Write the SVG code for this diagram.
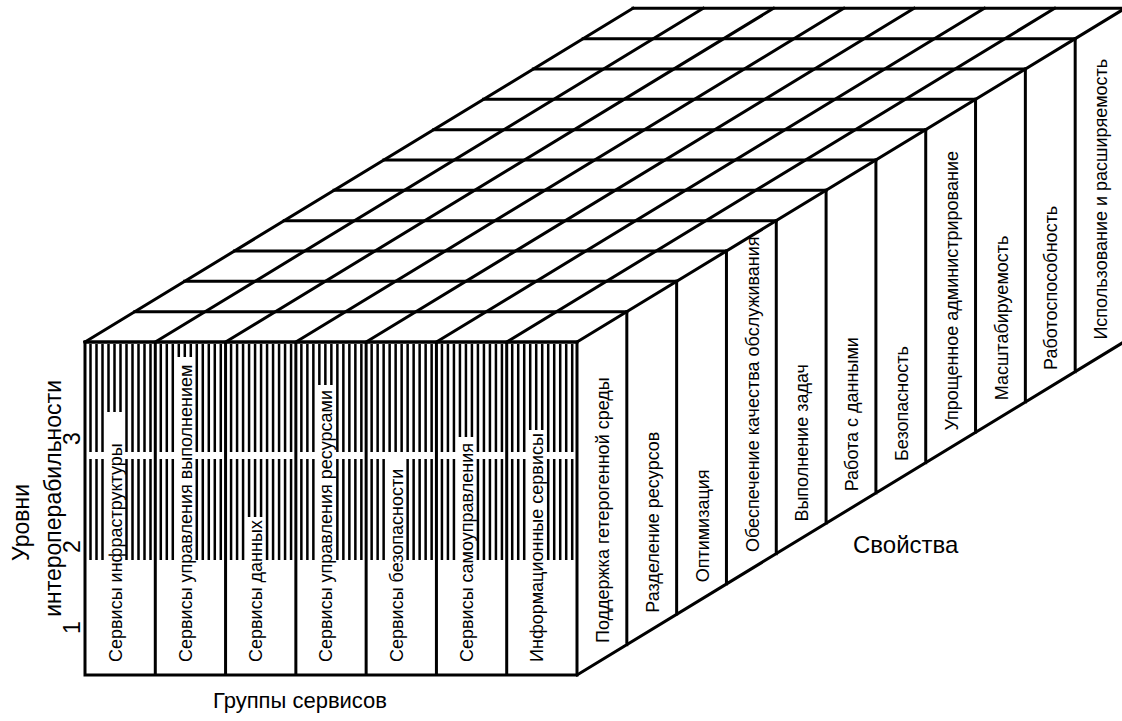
<svg xmlns="http://www.w3.org/2000/svg" xmlns:xlink="http://www.w3.org/1999/xlink" width="1122" height="721" viewBox="0 0 1122 721">
<style>
.ln{fill:none;stroke:#000;stroke-width:3;stroke-linecap:square;stroke-linejoin:miter}
.ht{fill:none;stroke:#000;stroke-width:2.5}
.msk{fill:#fff;stroke:none}
.t{font-family:"Liberation Sans",Arial,sans-serif;font-size:18px;fill:#000}
.big{font-family:"Liberation Sans",Arial,sans-serif;font-size:22px;fill:#000}
.axis{font-family:"Liberation Sans",Arial,sans-serif;font-size:23px;fill:#000}
</style>
<defs>
<path id="hatch" class="ht" d="M5.5 344V452M5.5 459V560M11.5 344V452M11.5 459V560M17.5 344V452M17.5 459V560M23.5 344V452M23.5 459V560M29.5 344V452M29.5 459V560M35.5 344V452M35.5 459V560M41.5 344V452M41.5 459V560M47.5 344V452M47.5 459V560M53.5 344V452M53.5 459V560M59.5 344V452M59.5 459V560M65.5 344V452M65.5 459V560"/>
</defs>
<rect width="1122" height="721" fill="#fff"/>

<g id="top-face">
<path class="ln" d="M85 342H577M134.82 311.66H626.82M184.64 281.33H676.64M234.45 250.99H726.45M284.27 220.65H776.27M334.09 190.32H826.09M383.91 159.98H875.91M433.73 129.65H925.73M483.55 99.31H975.55M533.36 68.97H1025.36M583.18 38.64H1075.18M633 8.3H1125"/>
<path class="ln" d="M85 342L633 8.3M155.29 342L703.29 8.3M225.57 342L773.57 8.3M295.86 342L843.86 8.3M366.14 342L914.14 8.3M436.43 342L984.43 8.3M506.71 342L1054.71 8.3M577 342L1125 8.3"/>
</g>

<g id="front-face">
<g id="group-infrastructure">
<use xlink:href="#hatch" x="85"/>
<rect class="msk" x="105" y="412" width="19" height="150"/>
<text class="t" transform="translate(121.5,662) rotate(-90)">Сервисы инфраструктуры</text>
</g>
<g id="group-execution">
<use xlink:href="#hatch" x="155.29"/>
<rect class="msk" x="175.29" y="357" width="19" height="205"/>
<text class="t" transform="translate(191.8,662) rotate(-90)">Сервисы управления выполнением</text>
</g>
<g id="group-data">
<use xlink:href="#hatch" x="225.57"/>
<rect class="msk" x="245.57" y="517" width="19" height="45"/>
<text class="t" transform="translate(262.1,662) rotate(-90)">Сервисы данных</text>
</g>
<g id="group-resources">
<use xlink:href="#hatch" x="295.86"/>
<rect class="msk" x="315.86" y="385" width="19" height="177"/>
<text class="t" transform="translate(332.4,662) rotate(-90)">Сервисы управления ресурсами</text>
</g>
<g id="group-security">
<use xlink:href="#hatch" x="366.14"/>
<rect class="msk" x="386.14" y="458" width="19" height="104"/>
<text class="t" transform="translate(402.6,662) rotate(-90)">Сервисы безопасности</text>
</g>
<g id="group-selfmanagement">
<use xlink:href="#hatch" x="436.43"/>
<rect class="msk" x="456.43" y="437" width="19" height="125"/>
<text class="t" transform="translate(472.9,662) rotate(-90)">Сервисы самоуправления</text>
</g>
<g id="group-information">
<use xlink:href="#hatch" x="506.71"/>
<rect class="msk" x="526.71" y="430" width="19" height="132"/>
<text class="t" transform="translate(543.2,662) rotate(-90)">Информационные сервисы</text>
</g>
<path class="ln" d="M85 342H577V675H85ZM155.29 342V675M225.57 342V675M295.86 342V675M366.14 342V675M436.43 342V675M506.71 342V675"/>
</g>

<g id="right-face">
<path class="ln" d="M577 675L1125 341.3M626.82 311.66V644.66M676.64 281.33V614.33M726.45 250.99V583.99M776.27 220.65V553.65M826.09 190.32V523.32M875.91 159.98V492.98M925.73 129.65V462.65M975.55 99.31V432.31M1025.36 68.97V401.97M1075.18 38.64V371.64M1125 8.3V341.3"/>
<g id="prop-1"><text class="t" transform="translate(609,643) rotate(-90)">Поддержка гетерогенной среды</text></g>
<g id="prop-2"><text class="t" transform="translate(658.8,612.7) rotate(-90)">Разделение ресурсов</text></g>
<g id="prop-3"><text class="t" transform="translate(708.6,582.3) rotate(-90)">Оптимизация</text></g>
<g id="prop-4"><text class="t" transform="translate(758.5,552) rotate(-90)">Обеспечение качества обслуживания</text></g>
<g id="prop-5"><text class="t" transform="translate(808.3,521.6) rotate(-90)">Выполнение задач</text></g>
<g id="prop-6"><text class="t" transform="translate(858.1,491.3) rotate(-90)">Работа с данными</text></g>
<g id="prop-7"><text class="t" transform="translate(907.9,461) rotate(-90)">Безопасность</text></g>
<g id="prop-8"><text class="t" transform="translate(957.7,430.6) rotate(-90)">Упрощенное администрирование</text></g>
<g id="prop-9"><text class="t" transform="translate(1007.6,400.3) rotate(-90)">Масштабируемость</text></g>
<g id="prop-10"><text class="t" transform="translate(1057.4,370) rotate(-90)">Работоспособность</text></g>
<g id="prop-11"><text class="t" transform="translate(1107.2,339.6) rotate(-90)">Использование и расширяемость</text></g>
</g>

<g id="axis-labels">
<text class="axis" text-anchor="end" transform="translate(29,484) rotate(-90)">Уровни</text>
<text class="axis" text-anchor="end" transform="translate(61,380) rotate(-90)">интероперабильности</text>
<text class="axis" transform="translate(80,634) rotate(-90)">1</text>
<text class="axis" transform="translate(80,553) rotate(-90)">2</text>
<text class="axis" transform="translate(80,445) rotate(-90)">3</text>
<text class="big" x="213" y="708">Группы сервисов</text>
<text class="big" x="853" y="553" style="font-size:24px">Свойства</text>
</g>
</svg>
